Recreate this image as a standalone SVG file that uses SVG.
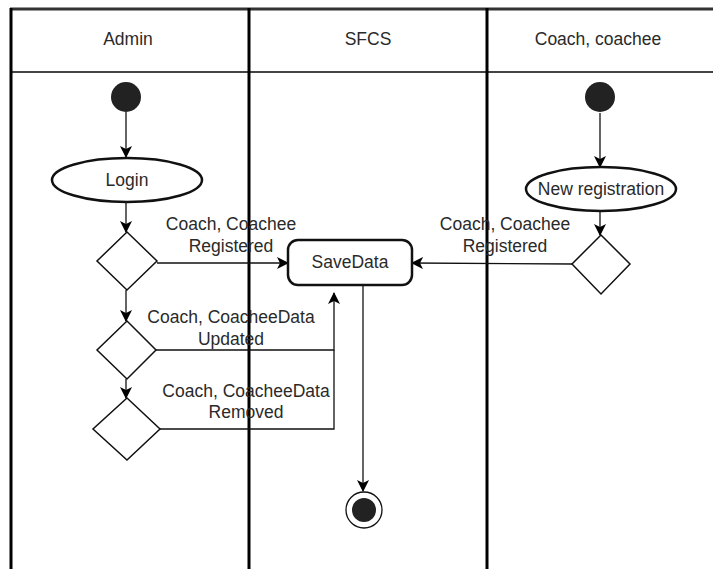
<svg xmlns="http://www.w3.org/2000/svg" width="713" height="569" viewBox="0 0 713 569">
<style>
.lbl{font-family:"Liberation Sans",Arial,sans-serif;font-size:17.5px;fill:#2a2a2a;text-anchor:middle}
.node{fill:#fff;stroke:#111;stroke-width:2.5}
.dia{fill:#fff;stroke:#111;stroke-width:1.5}
.edge{fill:none;stroke:#111;stroke-width:1.3}
.lane{stroke:#000;stroke-width:3}
</style>
<defs>
<marker id="arr" viewBox="0 0 12 12" refX="11" refY="6" markerWidth="12" markerHeight="12" markerUnits="userSpaceOnUse" orient="auto">
<path d="M0,0 L12,6 L0,12 L3,6 Z" fill="#000"/>
</marker>
</defs>
<rect width="713" height="569" fill="#fff"/>
<g id="lanes">
<line x1="10" y1="9" x2="713" y2="9" stroke="#333" stroke-width="3"/>
<line x1="11" y1="72" x2="713" y2="72" stroke="#444" stroke-width="2"/>
<line class="lane" x1="11" y1="8" x2="11" y2="569"/>
<line class="lane" x1="249" y1="8" x2="249" y2="569"/>
<line class="lane" x1="487" y1="8" x2="487" y2="569"/>
<text class="lbl" x="128" y="45">Admin</text>
<text class="lbl" x="368" y="45">SFCS</text>
<text class="lbl" x="598" y="45">Coach, coachee</text>
</g>
<g id="connectors">
<line class="edge" x1="126" y1="112" x2="126" y2="157" marker-end="url(#arr)"/>
<line class="edge" x1="126" y1="202" x2="126" y2="232" marker-end="url(#arr)"/>
<line class="edge" x1="126" y1="290" x2="126" y2="321" marker-end="url(#arr)"/>
<line class="edge" x1="126" y1="379" x2="126" y2="398" marker-end="url(#arr)"/>
<line class="edge" x1="157" y1="263" x2="288" y2="263" marker-end="url(#arr)"/>
<line class="edge" x1="572" y1="264" x2="412" y2="263" marker-end="url(#arr)"/>
<line class="edge" x1="600" y1="113" x2="600" y2="167" marker-end="url(#arr)"/>
<line class="edge" x1="600" y1="212" x2="600" y2="235" marker-end="url(#arr)"/>
<polyline class="edge" points="156,350 334,350 334,293" marker-end="url(#arr)"/>
<polyline class="edge" points="160,429 334,429 334,350"/>
<line class="edge" x1="363" y1="286" x2="363" y2="491" marker-end="url(#arr)"/>
<text class="lbl" x="231" y="230">Coach, Coachee</text>
<text class="lbl" x="231" y="252">Registered</text>
<text class="lbl" x="505" y="230">Coach, Coachee</text>
<text class="lbl" x="505" y="252">Registered</text>
<text class="lbl" x="231" y="323">Coach, CoacheeData</text>
<text class="lbl" x="231" y="345">Updated</text>
<text class="lbl" x="246" y="397">Coach, CoacheeData</text>
<text class="lbl" x="246" y="418">Removed</text>
</g>
<g id="start-admin"><circle cx="126" cy="97" r="15" fill="#222"/></g>
<g id="login"><ellipse class="node" cx="127" cy="180" rx="75" ry="22"/><text class="lbl" x="127" y="186">Login</text></g>
<g id="dec1"><polygon class="dia" points="127,232 157,261 127,290 97,261"/></g>
<g id="dec2"><polygon class="dia" points="127,321 156,350 127,379 97,350"/></g>
<g id="dec3"><polygon class="dia" points="127,398 160,429 127,460 93,429"/></g>
<g id="savedata"><rect class="node" x="288" y="240" width="124" height="45" rx="10"/><text class="lbl" x="350" y="268">SaveData</text></g>
<g id="start-coach"><circle cx="600" cy="97" r="15" fill="#222"/></g>
<g id="newreg"><ellipse class="node" cx="601" cy="189" rx="75" ry="22"/><text class="lbl" x="601" y="195">New registration</text></g>
<g id="dec4"><polygon class="dia" points="601,235 630,264 601,294 572,264"/></g>
<g id="end"><circle cx="364" cy="510" r="18" fill="#fff" stroke="#111" stroke-width="1.3"/><circle cx="364" cy="510" r="12" fill="#222"/></g>
</svg>
